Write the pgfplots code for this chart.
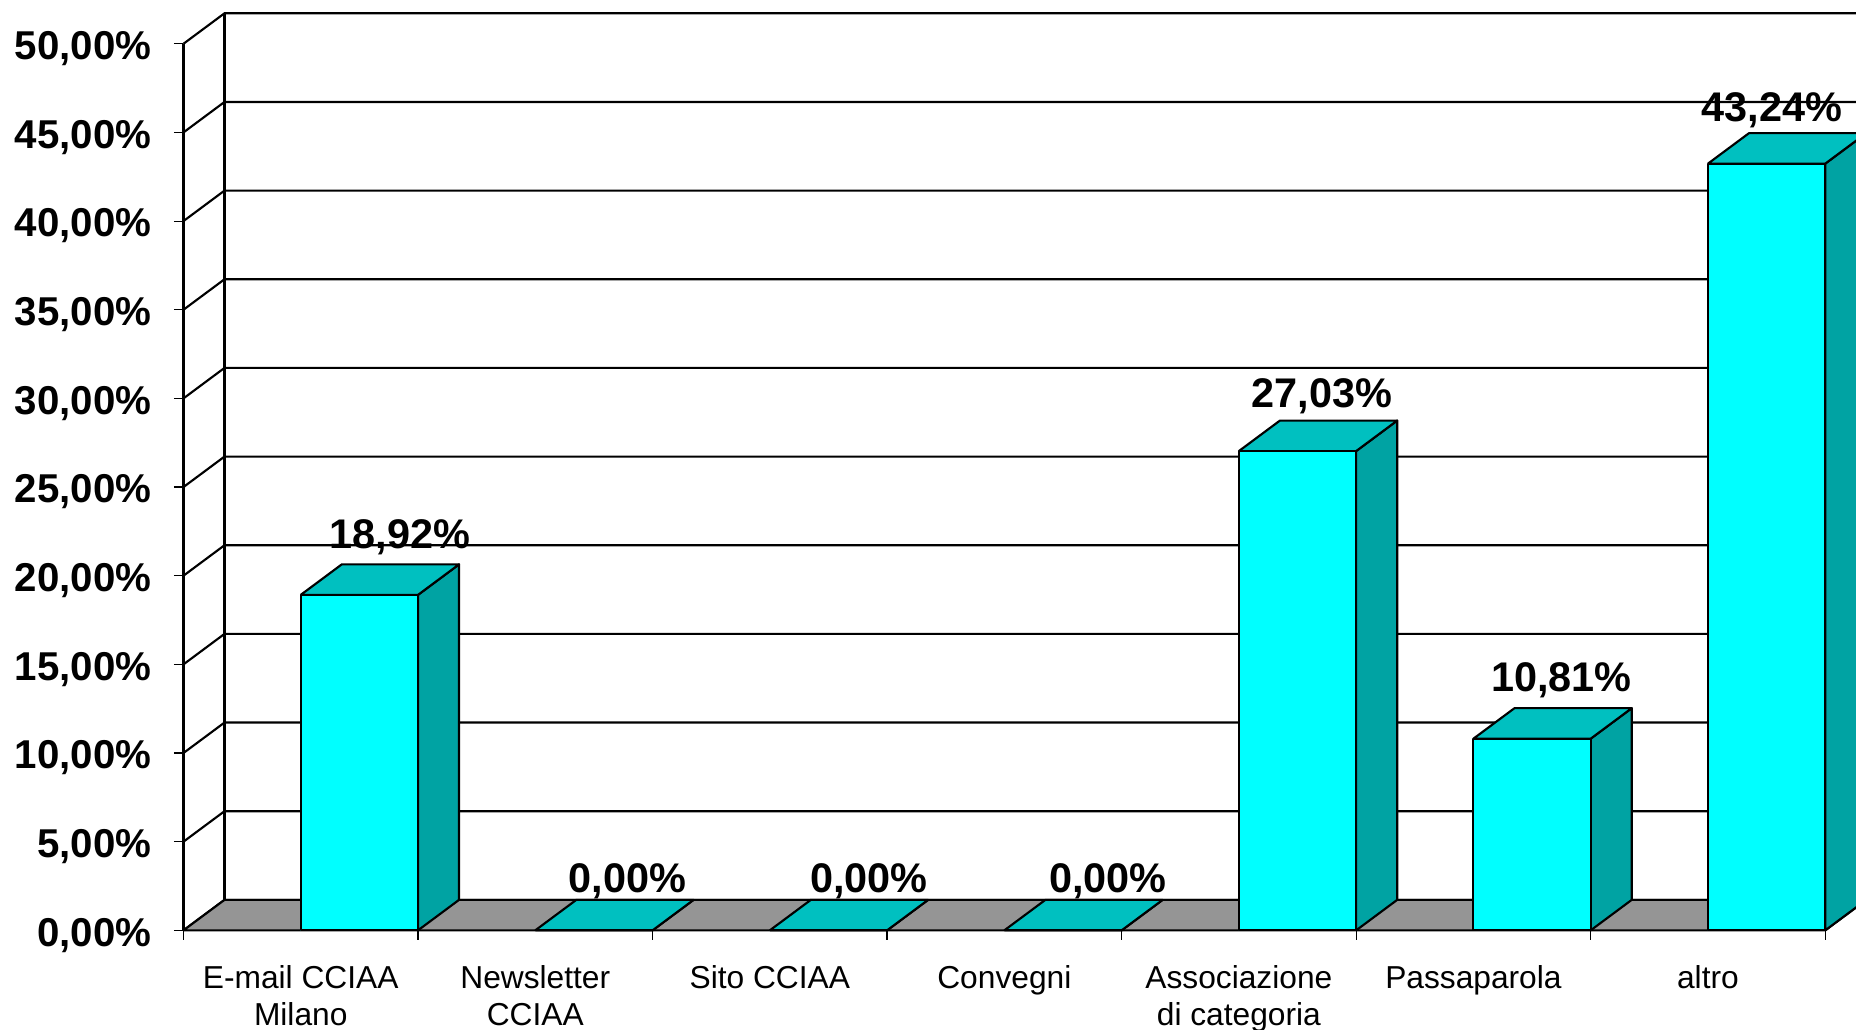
\documentclass[border=0pt]{standalone}
\usepackage{pgfplots}
\pgfplotsset{compat=1.18}
\usepackage{fontspec}
\setmainfont{Liberation Sans}

\definecolor{barfront}{HTML}{00FFFF}
\definecolor{bartop}{HTML}{00C0C0}
\definecolor{barside}{HTML}{00A3A3}
\definecolor{floorgray}{HTML}{959595}

% depth of the 3-D box, in axis units
\newcommand\depthx{0.175}
\newcommand\depthy{1.72}

% one gridline on the side wall and the back wall
\newcommand\gridlevel[1]{%
  \pgfmathsetmacro\gy{#1+\depthy}%
  \pgfmathsetmacro\gxb{7+\depthx}%
  \addplot[wall] coordinates {(0,#1) (\depthx,\gy) (\gxb,\gy)};%
}

% one 3-D bar: category index, value, label, label x, label baseline
\newcommand\barbox[5]{%
  \pgfmathsetmacro\xa{#1+0.5}%
  \pgfmathsetmacro\xb{#1+1}%
  \pgfmathsetmacro\xc{#1+1+\depthx}%
  \pgfmathsetmacro\xd{#1+0.5+\depthx}%
  \pgfmathsetmacro\ha{#2}%
  \pgfmathsetmacro\hb{#2+\depthy}%
  \addplot[face, fill=barside] coordinates {(\xb,0) (\xc,\depthy) (\xc,\hb) (\xb,\ha) (\xb,0)};
  \addplot[face, fill=bartop] coordinates {(\xa,\ha) (\xb,\ha) (\xc,\hb) (\xd,\hb) (\xa,\ha)};
  \addplot[face, fill=barfront] coordinates {(\xa,0) (\xb,0) (\xb,\ha) (\xa,\ha) (\xa,0)};
  \edef\labelcmd{\noexpand\node[datalabel] at (axis cs:#4,#5) {\unexpanded{#3}};}\labelcmd
}

\begin{document}
\begin{tikzpicture}[
  face/.style={draw=black, line width=0.9pt, line join=round},
  wall/.style={black, line width=0.9pt},
  datalabel/.style={font=\bfseries\fontsize{17.5}{20}\selectfont, anchor=base, inner sep=0pt},
]
\useasboundingbox (-77.5pt,-42pt) rectangle (706.5pt,393pt);
\begin{axis}[
  at={(0pt,0pt)}, anchor=origin,
  scale only axis, width=693.5pt, height=374.5pt,
  xmin=0, xmax=7, ymin=0, ymax=50,
  clip=false,
  axis x line=bottom, axis y line=left,
  axis line style={-, line width=0.9pt},
  tick align=outside, major tick length=4pt,
  tick style={black, line width=0.5pt},
  xtick={0,...,7}, xticklabels={},
  extra x ticks={0.5,1.5,...,6.5},
  extra x tick labels={{E-mail CCIAA\\Milano},{Newsletter\\CCIAA},{Sito CCIAA},{Convegni},{Associazione\\di categoria},{Passaparola},{altro}},
  extra x tick style={major tick length=0pt},
  xticklabel style={font=\fontsize{13.4}{15.5}\selectfont, align=center, yshift=-11.5pt},
  ytick={0,5,...,50},
  yticklabels={{0,00\%},{5,00\%},{10,00\%},{15,00\%},{20,00\%},{25,00\%},{30,00\%},{35,00\%},{40,00\%},{45,00\%},{50,00\%}},
  yticklabel style={font=\bfseries\fontsize{17}{20}\selectfont, xshift=-6pt, yshift=-2pt},
]
% side wall and back wall gridlines
\gridlevel{0}\gridlevel{5}\gridlevel{10}\gridlevel{15}\gridlevel{20}\gridlevel{25}
\gridlevel{30}\gridlevel{35}\gridlevel{40}\gridlevel{45}\gridlevel{50}
\addplot[wall] coordinates {(0.175,1.72) (0.175,51.72)};
\addplot[wall] coordinates {(7.175,1.72) (7.175,51.72)};
% floor
\addplot[face, fill=floorgray] coordinates {(0,0) (7,0) (7.175,1.72) (0.175,1.72) (0,0)};
% bars
\barbox{0}{18.92}{18,92\%}{0.924}{21.56}
\barbox{1}{0}{0,00\%}{1.893}{2.14}
\barbox{2}{0}{0,00\%}{2.922}{2.14}
\barbox{3}{0}{0,00\%}{3.942}{2.14}
\barbox{4}{27.03}{27,03\%}{4.855}{29.5}
\barbox{5}{10.81}{10,81\%}{5.875}{13.48}
\barbox{6}{43.24}{43,24\%}{6.773}{45.6}
\end{axis}
\end{tikzpicture}
\end{document}
